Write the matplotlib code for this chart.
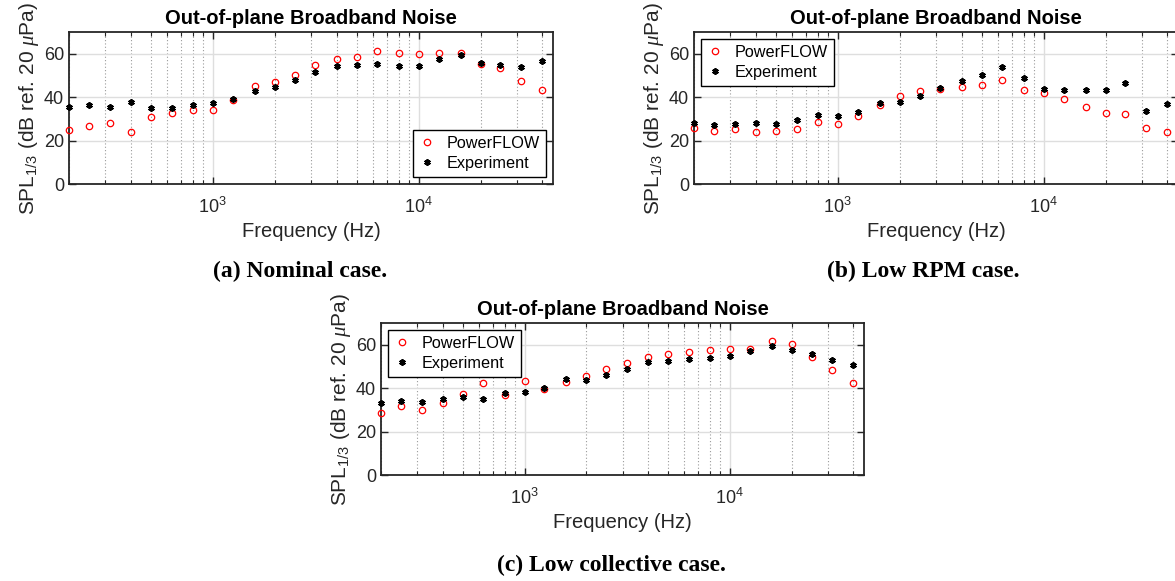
import numpy as np
import matplotlib.pyplot as plt
from matplotlib.ticker import LogLocator, NullFormatter, FixedLocator


# third-octave band centres (Hz)
freq = [200, 250, 315, 400, 500, 630, 800, 1000, 1250, 1600, 2000, 2500,
        3150, 4000, 5000, 6300, 8000, 10000, 12500, 16000, 20000, 25000,
        31500, 40000]

# (a) nominal case
nominal_pf = [24.9, 26.6, 28.1, 23.8, 30.7, 32.9, 34.0, 34.0, 38.9, 45.2,
              47.0, 50.0, 54.8, 57.6, 58.7, 61.2, 60.5, 59.9, 60.5, 60.1,
              55.3, 53.2, 47.3, 43.3]
nominal_exp = [35.3, 36.6, 35.5, 37.8, 35.0, 35.2, 36.4, 37.2, 39.2, 42.9,
               44.6, 47.8, 51.6, 54.4, 54.8, 55.3, 54.4, 54.4, 57.5, 59.6,
               55.9, 54.8, 53.8, 56.7]

# (b) low RPM case
lowrpm_pf = [25.7, 24.2, 25.4, 23.8, 24.5, 25.2, 28.5, 27.7, 31.4, 36.2,
             40.3, 42.8, 43.8, 44.9, 45.4, 47.8, 43.5, 42.0, 39.2, 35.4,
             32.5, 32.3, 26.0, 23.8]
lowrpm_exp = [28.3, 27.2, 27.5, 28.0, 27.8, 29.4, 31.7, 31.2, 33.1, 37.2,
              37.8, 40.3, 44.2, 47.4, 50.2, 54.0, 48.6, 43.8, 43.2, 43.2,
              43.1, 46.5, 33.4, 36.9]

# (c) low collective case
lowcoll_pf = [28.4, 31.8, 29.8, 33.1, 37.3, 42.4, 36.8, 43.4, 39.4, 42.8,
              45.4, 48.8, 51.4, 54.3, 55.5, 56.5, 57.5, 58.0, 57.8, 61.5,
              60.5, 54.5, 48.5, 42.5]
lowcoll_exp = [33.0, 34.2, 33.6, 35.0, 35.9, 35.1, 37.9, 38.4, 40.2, 44.2,
               43.6, 45.9, 48.8, 51.9, 52.3, 53.4, 54.0, 54.9, 56.9, 59.5,
               57.4, 55.9, 53.1, 50.6]

title = "Out-of-plane Broadband Noise"
captions = ["(a) Nominal case.", "(b) Low RPM case.", "(c) Low collective case."]
yticks = [0, 20, 40, 60]


plt.rcParams['font.family'] = 'Liberation Sans'
plt.rcParams['mathtext.fontset'] = 'custom'
plt.rcParams['mathtext.rm'] = 'Liberation Sans'
plt.rcParams['mathtext.sf'] = 'Liberation Sans'
plt.rcParams['mathtext.it'] = 'Liberation Serif:italic'

W, H = 1175, 581
fig = plt.figure(figsize=(W / 100, H / 100), dpi=100)

TXT = '#262626'


def panel(box, pf, exp, legend_loc):
    # box given in pixels: left, top, right, bottom
    l, t, r, b = box
    ax = fig.add_axes([l / W, 1 - b / H, (r - l) / W, (b - t) / H])

    ax.plot(freq, pf, ls='none', marker='o', ms=4.6, mfc='none',
            mec='red', mew=0.9, label='PowerFLOW', clip_on=False, zorder=3)
    ax.plot(freq, exp, ls='none', marker=(6, 2, 0), ms=4.6, color='black',
            mew=1.4, label='Experiment', clip_on=False, zorder=3)

    ax.set_xscale('log')
    ax.set_xlim(200, 45000)
    ax.set_ylim(0, 70)
    ax.yaxis.set_major_locator(FixedLocator(yticks))
    ax.xaxis.set_major_locator(FixedLocator([1e3, 1e4]))
    ax.xaxis.set_minor_locator(LogLocator(base=10, subs=np.arange(2, 10)))
    ax.xaxis.set_minor_formatter(NullFormatter())

    ax.grid(which='major', color='#dedede', lw=1.0, ls='-', zorder=0)
    ax.grid(which='minor', axis='x', color='#9a9a9a', lw=0.8,
            ls=(0, (1, 2)), zorder=0)
    ax.set_axisbelow(True)

    ax.tick_params(which='both', direction='in', top=True, right=True,
                   colors=TXT, labelsize=13)
    ax.tick_params(which='major', length=5, width=1.0)
    ax.tick_params(which='minor', length=3, width=0.8)
    ax.tick_params(axis='x', which='both', pad=9)
    for s in ax.spines.values():
        s.set_color(TXT)
        s.set_linewidth(1.3)

    ax.set_title(title, fontsize=14.5, fontweight='bold', pad=6, color='black')
    ax.set_xlabel('Frequency (Hz)', fontsize=14.5, color=TXT, labelpad=4)
    ax.set_ylabel(r'SPL$_{1/3}$ (dB ref. 20 $\mu$Pa)', fontsize=15,
                  color=TXT, labelpad=2)

    leg = ax.legend(loc=legend_loc, fontsize=11.7, frameon=True, fancybox=False,
                    edgecolor='black', framealpha=1, borderaxespad=0.45,
                    handlelength=1.0, handletextpad=0.7, borderpad=0.35,
                    labelspacing=0.3)
    leg.get_frame().set_linewidth(1.0)
    return ax


panel((69, 32, 553, 184), nominal_pf, nominal_exp, 'lower right')
panel((694, 32, 1178, 184), lowrpm_pf, lowrpm_exp, 'upper left')
panel((381, 323, 864, 475), lowcoll_pf, lowcoll_exp, 'upper left')

cap_pos = [(300, 271), (923, 271), (611, 565)]
for (x, y), txt in zip(cap_pos, captions):
    fig.text(x / W, 1 - y / H, txt, ha='center', va='center',
             family='Liberation Serif', fontweight='bold', fontsize=17)

fig.savefig('out.png', dpi=100)
